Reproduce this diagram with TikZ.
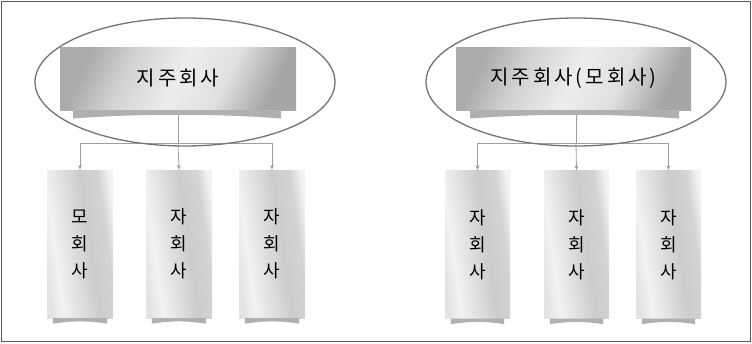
\documentclass[tikz,border=0pt]{standalone}
\usepackage{fontspec}
\newfontfamily\kr{Noto Sans CJK KR}
\newfontfamily\krsp[LetterSpace=15]{Noto Sans CJK KR}
\usetikzlibrary{arrows.meta}
\pgfdeclarehorizontalshading{topsh}{100bp}{color(0bp)=(gray!66); color(25bp)=(gray!66); color(36bp)=(gray!36); color(50bp)=(gray!14); color(62bp)=(gray!24); color(75bp)=(gray!70); color(100bp)=(gray!70)}
\pgfdeclarehorizontalshading{childsh}{100bp}{color(0bp)=(gray!22); color(25bp)=(gray!22); color(33bp)=(gray!10); color(56bp)=(gray!40); color(68bp)=(gray!34); color(75bp)=(gray!10); color(100bp)=(gray!10)}
\tikzset{
  topbox/.style={inner sep=0pt, minimum height=63pt,
    shading=topsh, shading angle=-25,
    font=\krsp\fontsize{20}{24}\selectfont},
  childbox/.style={inner sep=0pt, minimum width=66pt, minimum height=148pt,
    shading=childsh, shading angle=8,
    align=center, font=\kr\fontsize{18}{27}\selectfont},
  tab/.style={fill=gray!62},
  conn/.style={draw=gray!75, line width=0.8pt},
  arr/.style={conn, -{Stealth[length=5pt,width=4pt]}},
  ring/.style={draw=black!55, line width=1.3pt},
  frame/.style={draw=black!65, line width=1.2pt}
}
\begin{document}
\begin{tikzpicture}[x=1pt,y=-1pt]
\useasboundingbox (0,0) rectangle (752,343);
\draw[frame] (1.5,1.5) rectangle (750.5,341.5);

% ---------- left panel ----------
\node[topbox, minimum width=236pt] (T1) at (178,78.5) {지주회사};
\node[childbox] (a1) at (80,244) {모\\회\\사};
\node[childbox] (a2) at (179,244) {자\\회\\사};
\node[childbox] (a3) at (272,244) {자\\회\\사};
\coordinate (h1) at (178,143);
\draw[conn] (T1.south) -- (h1);
\draw[arr] (h1) -| (a1.north);
\draw[arr] (h1) -- (a2.north);
\draw[arr] (h1) -| (a3.north);
\fill[tab] (73,110) -- (73,118.5) .. controls (140,113.5) and (214,113.5) .. (281,118.5) -- (281,110) -- cycle;
\foreach \n in {a1,a2,a3}{
  \fill[tab] ([xshift=6pt]\n.south west) -- ([xshift=6pt,yshift=-5.5pt]\n.south west) .. controls +(18,-3) and +(-18,-3) .. ([xshift=-6pt,yshift=-5.5pt]\n.south east) -- ([xshift=-6pt]\n.south east) -- cycle;
}
\draw[ring] (185,82) ellipse [x radius=150, y radius=64];

% ---------- right panel ----------
\node[topbox, minimum width=235pt] (T2) at (573.5,78.5) {지주회사(모회사)};
\node[childbox, minimum width=65pt] (b1) at (477.5,244.5) {자\\회\\사};
\node[childbox, minimum width=65pt] (b2) at (576.5,244.5) {자\\회\\사};
\node[childbox, minimum width=65pt] (b3) at (668.5,244.5) {자\\회\\사};
\coordinate (h2) at (576,143);
\draw[conn] (T2.south -| h2) -- (h2);
\draw[arr] (h2) -| (b1.north);
\draw[arr] (h2) -- (b2.north);
\draw[arr] (h2) -| (b3.north);
\fill[tab] (470,110) -- (470,118.5) .. controls (540,113.5) and (610,113.5) .. (679,118.5) -- (679,110) -- cycle;
\foreach \n in {b1,b2,b3}{
  \fill[tab] ([xshift=6pt]\n.south west) -- ([xshift=6pt,yshift=-5.5pt]\n.south west) .. controls +(18,-3) and +(-18,-3) .. ([xshift=-6pt,yshift=-5.5pt]\n.south east) -- ([xshift=-6pt]\n.south east) -- cycle;
}
\draw[ring] (576,82) ellipse [x radius=150, y radius=64];
\end{tikzpicture}
\end{document}
